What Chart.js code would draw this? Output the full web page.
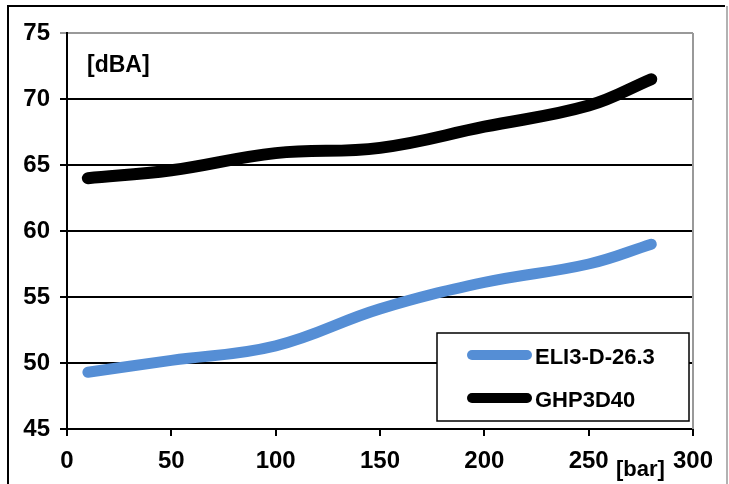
<!DOCTYPE html>
<html>
<head>
<meta charset="utf-8">
<script src="https://cdn.jsdelivr.net/npm/chart.js@4/dist/chart.umd.min.js"></script>
<style>
  html, body { margin: 0; padding: 0; background: #fff; }
  #wrap { width: 729px; height: 484px; position: relative; }
</style>
</head>
<body>
<div id="wrap"><canvas id="c" width="729" height="484"></canvas></div>
<script>
const pressures = [10, 50, 100, 150, 200, 250, 280];
const eliValues = [49.3, 50.2, 51.3, 54.1, 56.1, 57.5, 59.0];
const ghpValues = [64.0, 64.6, 65.9, 66.3, 67.9, 69.5, 71.5];
const seriesNames = ['ELI3-D-26.3', 'GHP3D40'];
const seriesColors = ['#558ed5', '#000000'];
const yUnit = '[dBA]';
const xUnit = '[bar]';

const tickFont = { family: '"Liberation Sans", Arial, sans-serif', weight: 'bold', size: 24 };

const decor = {
  id: 'decor',
  beforeDraw(chart) {
    const ctx = chart.ctx;
    ctx.save();
    ctx.fillStyle = '#fff';
    ctx.fillRect(0, 0, chart.width, chart.height);
    ctx.restore();
  },
  afterDraw(chart) {
    const ctx = chart.ctx;
    const a = chart.chartArea;
    ctx.save();
    // outer frame
    ctx.strokeStyle = '#000';
    ctx.lineWidth = 2;
    ctx.beginPath();
    ctx.moveTo(8, 484); ctx.lineTo(8, 6); ctx.lineTo(725, 6);
    ctx.stroke();
    ctx.strokeStyle = '#999';
    ctx.lineWidth = 1.5;
    ctx.beginPath();
    ctx.moveTo(727, 6); ctx.lineTo(727, 484);
    ctx.stroke();
    // plot right border
    ctx.strokeStyle = '#999';
    ctx.lineWidth = 2;
    ctx.beginPath();
    ctx.moveTo(a.right, a.top); ctx.lineTo(a.right, a.bottom);
    ctx.stroke();
    // unit labels
    ctx.fillStyle = '#000';
    ctx.textBaseline = 'alphabetic';
    ctx.textAlign = 'left';
    ctx.font = 'bold 23px "Liberation Sans", Arial, sans-serif';
    ctx.fillText(yUnit, 87, 72);
    ctx.font = 'bold 22px "Liberation Sans", Arial, sans-serif';
    ctx.fillText(xUnit, 616, 476);
    // legend box
    const lx = 437, ly = 333, lw = 252, lh = 88;
    ctx.fillStyle = '#fff';
    ctx.fillRect(lx, ly, lw, lh);
    ctx.strokeStyle = '#000';
    ctx.lineWidth = 1.5;
    ctx.strokeRect(lx, ly, lw, lh);
    const rows = [355, 398];
    chart.data.datasets.forEach((ds, i) => {
      ctx.strokeStyle = ds.borderColor;
      ctx.lineWidth = 10;
      ctx.lineCap = 'round';
      ctx.beginPath();
      ctx.moveTo(472, rows[i]); ctx.lineTo(527, rows[i]);
      ctx.stroke();
      ctx.fillStyle = '#000';
      ctx.font = 'bold 22px "Liberation Sans", Arial, sans-serif';
      ctx.textBaseline = 'middle';
      ctx.fillText(ds.label, 535, rows[i] + 3);
    });
    ctx.restore();
  }
};

new Chart(document.getElementById('c'), {
  type: 'line',
  data: {
    datasets: [
      { label: seriesNames[0], data: pressures.map((p, i) => ({ x: p, y: eliValues[i] })),
        borderColor: seriesColors[0], backgroundColor: seriesColors[0], borderWidth: 11,
        borderCapStyle: 'round', borderJoinStyle: 'round', pointRadius: 0, tension: 0.4, fill: false },
      { label: seriesNames[1], data: pressures.map((p, i) => ({ x: p, y: ghpValues[i] })),
        borderColor: seriesColors[1], backgroundColor: seriesColors[1], borderWidth: 12,
        borderCapStyle: 'round', borderJoinStyle: 'round', pointRadius: 0, tension: 0.4, fill: false }
    ]
  },
  options: {
    responsive: false,
    animation: false,
    devicePixelRatio: 1,
    layout: { padding: { left: 0, top: 33, right: 36, bottom: 0 } },
    plugins: { legend: { display: false }, tooltip: { enabled: false } },
    scales: {
      x: {
        type: 'linear', min: 0, max: 300,
        afterFit(s) { s.height = 55; },
        ticks: { stepSize: 50, color: '#000', font: tickFont, padding: 11, maxRotation: 0 },
        grid: { drawOnChartArea: false, drawTicks: true, tickLength: 7, color: '#000', lineWidth: 2 },
        border: { color: '#000', width: 2 }
      },
      y: {
        min: 45, max: 75,
        afterFit(s) { s.width = 67; },
        ticks: { stepSize: 5, color: '#000', font: tickFont, padding: 10 },
        grid: { color: c => (c.tick && c.tick.value === 75 ? '#999' : '#000'), lineWidth: 2, tickLength: 7 },
        border: { color: '#000', width: 2 }
      }
    }
  },
  plugins: [decor]
});
</script>
</body>
</html>
